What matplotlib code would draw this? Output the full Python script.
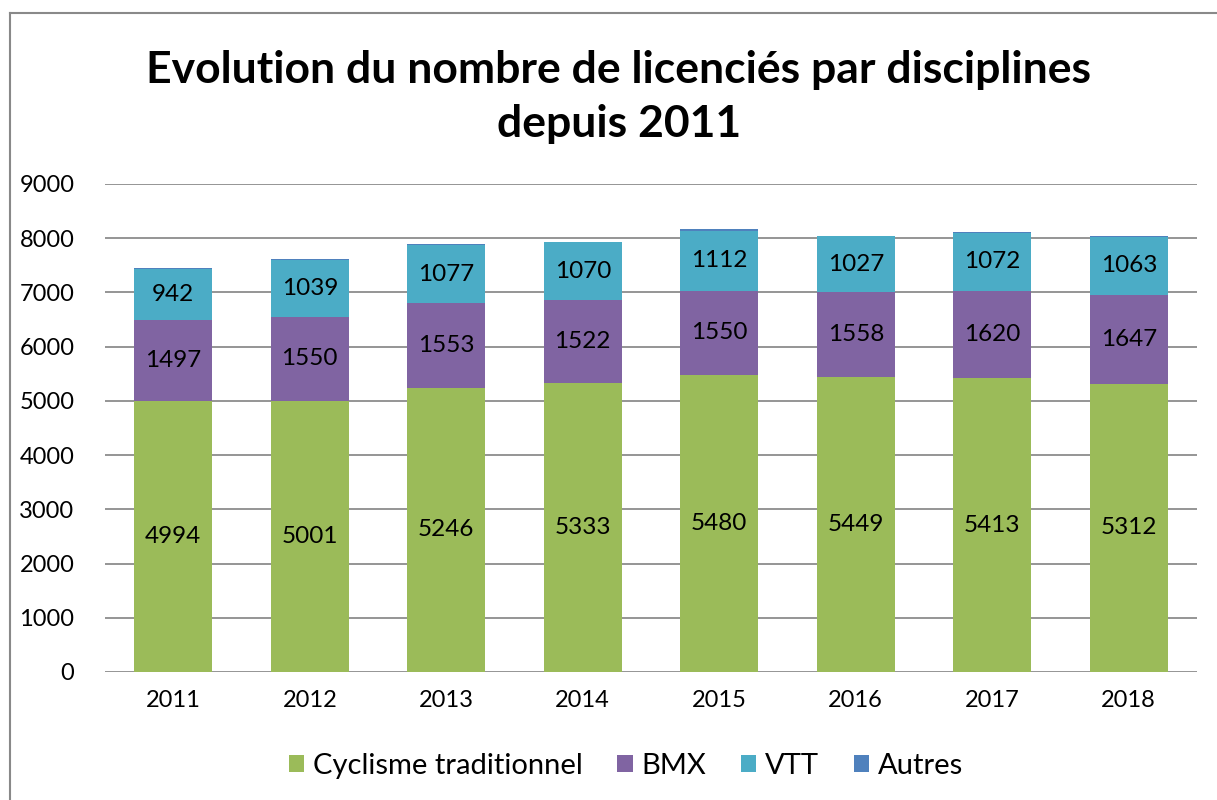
import numpy as np
import matplotlib
matplotlib.use('Agg')
import matplotlib.pyplot as plt
from matplotlib.lines import Line2D

years = ['2011', '2012', '2013', '2014', '2015', '2016', '2017', '2018']
cyclisme = [4994, 5001, 5246, 5333, 5480, 5449, 5413, 5312]
bmx = [1497, 1550, 1553, 1522, 1550, 1558, 1620, 1647]
vtt = [942, 1039, 1077, 1070, 1112, 1027, 1072, 1063]
autres = [15, 18, 12, 10, 20, 12, 10, 10]

series = ['Cyclisme traditionnel', 'BMX', 'VTT', 'Autres']
colors = ['#9BBB59', '#8064A2', '#4BACC6', '#4F81BD']

plt.rcParams['font.family'] = ['Lato', 'DejaVu Sans']

fig = plt.figure(figsize=(12.17, 8), dpi=100)
ax = fig.add_axes([105/1217, 128/800, 1092/1217, 488/800])

# chart frame
fig.add_artist(Line2D([10/1217, 10/1217], [0, 1 - 13/800], transform=fig.transFigure, color='#898989', lw=1.5))
fig.add_artist(Line2D([10/1217, 1], [1 - 13/800, 1 - 13/800], transform=fig.transFigure, color='#898989', lw=1.5))

x = np.arange(len(years))
w = 0.57
bottom = np.zeros(len(years))
for vals, col, name in zip([cyclisme, bmx, vtt, autres], colors, series):
    vals = np.array(vals)
    ax.bar(x, vals, w, bottom=bottom, color=col, label=name, zorder=3)
    if name != 'Autres':
        for xi, b, v in zip(x, bottom, vals):
            ax.text(xi, b + v/2, str(v), ha='center', va='center', fontsize=17.5, color='black', zorder=4)
    bottom += vals

ax.set_ylim(0, 9000)
ax.set_xlim(-0.5, len(years) - 0.5)
ax.set_yticks(range(0, 9001, 1000))
ax.set_xticks(x)
ax.set_xticklabels(years)
ax.yaxis.grid(True, color='#8C8C8C', lw=1.3, zorder=0)
for s in ax.spines.values():
    s.set_visible(False)
ax.tick_params(axis='both', length=0, labelsize=17)
ax.tick_params(axis='y', pad=22)
ax.tick_params(axis='x', pad=13)

fig.text(619/1217, 1 - 97/800, 'Evolution du nombre de licenciés par disciplines\ndepuis 2011',
         ha='center', va='center', fontsize=32, fontweight='bold', linespacing=1.45)

fig.legend(loc='center', bbox_to_anchor=(626/1217, 1 - 766/800), ncol=4, frameon=False,
           fontsize=21, handlelength=0.52, handleheight=0.52, handletextpad=0.3, columnspacing=1.2)

fig.savefig('out.png', dpi=100)
